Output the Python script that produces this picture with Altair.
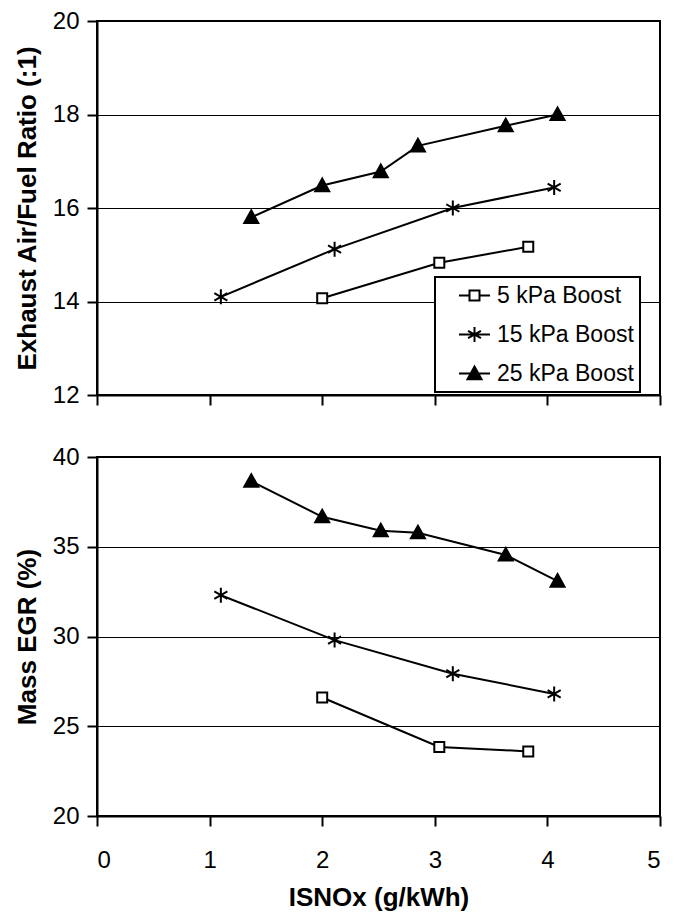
import altair as alt
import pandas as pd

series = ["5 kPa Boost", "15 kPa Boost", "25 kPa Boost"]

x_5 = [2.0, 3.04, 3.83]
af_5 = [14.07, 14.83, 15.17]
egr_5 = [26.6, 23.85, 23.6]

x_15 = [1.1, 2.11, 3.16, 4.06]
af_15 = [14.1, 15.12, 16.0, 16.44]
egr_15 = [32.3, 29.8, 27.93, 26.8]

x_25 = [1.37, 2.0, 2.52, 2.85, 3.63, 4.09]
af_25 = [15.8, 16.48, 16.78, 17.33, 17.76, 18.0]
egr_25 = [38.65, 36.67, 35.89, 35.78, 34.54, 33.09]

x_ticks = [0, 1, 2, 3, 4, 5]
af_ticks = [12, 14, 16, 18, 20]
egr_ticks = [20, 25, 30, 35, 40]

rows = []
for name, xs, afs, egrs in [(series[0], x_5, af_5, egr_5),
                            (series[1], x_15, af_15, egr_15),
                            (series[2], x_25, af_25, egr_25)]:
    for x, a, e in zip(xs, afs, egrs):
        rows.append({"Series": name, "ISNOx": x, "AF": a, "EGR": e})
df = pd.DataFrame(rows)

FONT = "Liberation Sans"

# data marker shapes
SQ = "M-1,-1H1V1H-1Z"
AST = "M0,-1V1M-0.87,-0.5L0.87,0.5M-0.87,0.5L0.87,-0.5"
TRI = "M0,-1L1,0.8L-1,0.8Z"

# legend symbols (line + marker)
LEG_SQ = "M-1.35,0H-0.435M0.435,0H1.35M-0.435,-0.435H0.435V0.435H-0.435Z"
LEG_AST = "M-1.35,0H1.35M0,-0.65V0.65M-0.56,-0.325L0.56,0.325M-0.56,0.325L0.56,-0.325"
LEG_TRI = "M-1.35,0H1.35M0,-0.61L0.61,0.49L-0.61,0.49Z"

marker_specs = [
    (series[0], SQ, 100, "white"),
    (series[1], AST, 225, "black"),
    (series[2], TRI, 196, "black"),
]


def panel(ycol, ydomain, yticks, ytitle, top):
    base = alt.Chart(df)
    if top:
        xaxis = alt.Axis(values=x_ticks, labels=False, title=None, grid=False)
    else:
        xaxis = alt.Axis(values=x_ticks, title="ISNOx (g/kWh)", grid=False,
                         labelPadding=22, titlePadding=12)
    xenc = alt.X("ISNOx:Q", scale=alt.Scale(domain=[0, 5], nice=False), axis=xaxis)
    yenc = alt.Y(f"{ycol}:Q", scale=alt.Scale(domain=ydomain, nice=False),
                 axis=alt.Axis(values=yticks, title=ytitle, grid=True))
    lines = base.mark_line(color="black", strokeWidth=2).encode(
        x=xenc, y=yenc, detail="Series:N")
    layers = [lines]
    for name, shp, size, fill in marker_specs:
        layers.append(
            base.transform_filter(alt.datum.Series == name)
            .mark_point(shape=shp, size=size, filled=True, fill=fill,
                        stroke="black", strokeWidth=2, opacity=1)
            .encode(x=xenc, y=yenc)
        )
    if top:
        leg = alt.Legend(title=None, orient="none", legendX=338, legendY=256,
                         strokeColor="black", fillColor="white", padding=6,
                         rowPadding=14, symbolOffset=21, labelOffset=10,
                         labelFont=FONT, labelFontSize=23, labelColor="black",
                         symbolSize=529, symbolStrokeWidth=2)
        layers.append(
            base.transform_filter("false")
            .mark_point(opacity=1, filled=True, strokeWidth=2, size=529)
            .encode(
                shape=alt.Shape("Series:N", scale=alt.Scale(domain=series, range=[LEG_SQ, LEG_AST, LEG_TRI]), legend=leg),
                fill=alt.Fill("Series:N", scale=alt.Scale(domain=series, range=["white", "black", "black"]), legend=leg),
                stroke=alt.Stroke("Series:N", scale=alt.Scale(domain=series, range=["black", "black", "black"]), legend=leg),
            )
        )
    h = 374 if top else 359
    return alt.layer(*layers).properties(width=563, height=h)


top = panel("AF", [12, 20], af_ticks, "Exhaust Air/Fuel Ratio (:1)", True)
bottom = panel("EGR", [20, 40], egr_ticks, "Mass EGR (%)", False)

chart = alt.vconcat(top, bottom, spacing=62, bounds="flush").properties(
    padding={"left": 5, "top": 0, "right": 5, "bottom": 0}
).configure(
    background="white"
).configure_view(
    stroke="black", strokeWidth=2
).configure_axis(
    labelFont=FONT, labelFontSize=24, labelColor="black", labelPadding=8,
    titleFont=FONT, titleFontSize=26, titleFontWeight="bold", titleColor="black",
    titlePadding=12,
    domainColor="black", domainWidth=2, tickColor="black", tickWidth=2, tickSize=10,
    gridColor="black", gridWidth=1, gridOpacity=1,
).configure_legend(
    strokeWidth=2
)

chart.save("out.html", embed_options={"renderer": "svg", "actions": False})
